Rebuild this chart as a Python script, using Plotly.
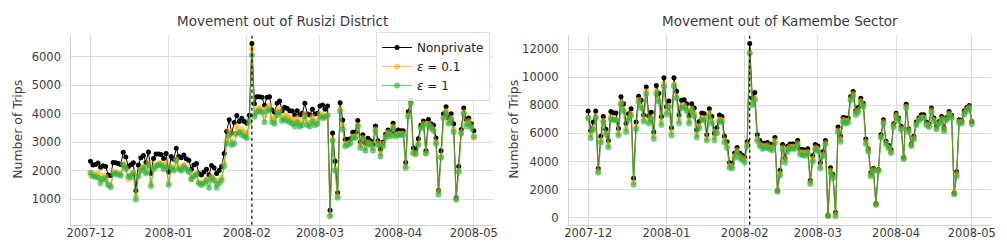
import pandas as pd
import plotly.graph_objects as go

dates = pd.date_range("2007-12-01", "2008-05-01", freq="D")
event_date = "2008-02-03"

# ---- Rusizi District ----
rusizi_nonprivate = [
    2330, 2200, 2220, 2270, 2120, 2170, 2150, 1850, 1830, 2290, 2280, 2250, 2220, 2650, 2480, 2150, 2210, 2280, 1300, 2200, 2450, 2530, 2290, 2660, 1900, 2430, 2590, 2590, 2570, 2430, 2600,
    1950, 2500, 2400, 2790, 2500, 2450, 2550, 2420, 2370, 2050, 2200, 2250, 1900, 1850, 1950, 2050, 1850, 2180, 2100, 1900, 2010, 2150, 2600, 3380, 3790, 3320, 3690, 3940, 3730, 3840, 3730,
    3670, 3950, 6470, 4350, 4600, 4600, 4580, 4300, 4580, 4600, 4130, 4050, 4370, 4450, 4110, 4230, 4190, 4110, 4100, 3960, 4110, 3960, 4020, 4370, 3990, 3960, 4160, 3990, 4020,
    4270, 4310, 4160, 4270, 610, 3320, 2330, 1220, 4390, 3780, 3100, 3100, 3120, 3350, 3350, 3760, 3000, 3260, 2970, 3140, 3050, 2920, 3570, 3050, 2750, 3000, 3280, 3430, 3340, 3670, 3320,
    3430, 3400, 3400, 2290, 4070, 4480, 2800, 2750, 3120, 3600, 3750, 2700, 3800, 3650, 3600, 3150, 1300, 2700, 4000, 4250, 3850, 4000, 3650, 1050, 2150, 3450, 4200, 3800, 3850, 3650, 3400,
]
rusizi_eps01 = [
    1830, 1880, 1860, 1900, 1700, 1820, 1800, 1520, 1480, 1950, 1950, 1900, 1880, 2250, 2100, 1700, 1860, 1950, 1100, 1850, 2050, 2150, 1950, 2300, 1550, 2100, 2200, 2250, 2250, 2100, 2250,
    1550, 2150, 2050, 2400, 2150, 2050, 2200, 2100, 2000, 1700, 1850, 1900, 1600, 1550, 1600, 1700, 1600, 1800, 1700, 1550, 1650, 1750, 2250, 3050, 3400, 3000, 3300, 3550, 3350, 3450, 3350,
    3300, 3650, 6280, 3950, 4150, 4200, 4150, 3950, 4200, 4300, 3850, 3800, 4100, 4150, 3850, 3950, 3900, 3850, 3800, 3700, 3850, 3650, 3750, 4000, 3700, 3650, 3900, 3700, 3750,
    4000, 3950, 3850, 3950, 420, 3100, 2050, 1100, 4150, 3550, 2950, 2950, 3000, 3200, 3200, 3600, 2900, 3150, 2800, 3000, 2950, 2800, 3450, 2950, 2600, 2950, 3200, 3350, 3250, 3550, 3250,
    3300, 3300, 3300, 2150, 3950, 4400, 2650, 2550, 2950, 3500, 3650, 2600, 3650, 3550, 3450, 3000, 1250, 2500, 3850, 4100, 3700, 3850, 3450, 1000, 2000, 3350, 4050, 3650, 3750, 3550, 3150,
]
rusizi_eps1 = [
    1930, 1800, 1780, 1760, 1560, 1720, 1680, 1500, 1420, 1880, 1900, 1860, 1820, 2200, 2050, 1800, 1760, 1900, 980, 1800, 2000, 2100, 1900, 2200, 1450, 2050, 2150, 2200, 2200, 2050, 2150,
    1500, 2100, 2000, 2350, 2050, 2000, 2150, 2050, 1950, 1700, 1800, 1850, 1550, 1500, 1550, 1650, 1400, 1750, 1650, 1400, 1550, 1650, 2150, 2950, 3250, 2900, 2950, 3300, 3350, 3250, 3200,
    3150, 3750, 6070, 3900, 4050, 4100, 4050, 3700, 4100, 4150, 3700, 3650, 3950, 4050, 3750, 3800, 3750, 3700, 3650, 3550, 3700, 3550, 3600, 3900, 3600, 3550, 3750, 3600, 3650,
    3900, 3850, 3900, 3950, 400, 3050, 2000, 1050, 4100, 3450, 2850, 2900, 2950, 3150, 3150, 3550, 2800, 3100, 2700, 2950, 2900, 2700, 3400, 2900, 2500, 2850, 3150, 3300, 3200, 3500, 3200,
    3250, 3250, 3250, 2100, 3900, 4350, 2600, 2600, 2900, 3500, 3600, 2600, 3600, 3500, 3400, 2950, 1150, 2450, 3850, 4000, 3650, 3800, 3350, 980, 1950, 3300, 4000, 3550, 3650, 3500, 3200,
]

# ---- Kamembe Sector ----
kamembe_nonprivate = [
    7600, 6200, 6800, 7600, 3500, 5800, 7200, 6300, 5500, 7550, 7450, 7450, 6350, 8600, 8100, 6700, 7400, 7750, 2800, 6800, 8650, 8350, 7300, 9300, 7250, 7500, 6100, 9400, 8850, 7200, 9950,
    7900, 8300, 6400, 9950, 9000, 7300, 8350, 8400, 8100, 7250, 8100, 7800, 6250, 6850, 7450, 7400, 5900, 7750, 7200, 6000, 6400, 7300, 7200, 5800, 5400, 3900, 3850, 4600, 5000, 4600, 4450,
    4300, 5400, 12400, 8500, 8900, 5900, 5500, 5300, 5300, 5350, 5200, 5200, 5700, 1950, 3350, 5200, 4250, 5100, 5250, 5250, 5250, 5500, 4850, 4850, 4800, 4900, 2650, 4400, 5200,
    5100, 3900, 4700, 5500, 170, 3550, 3070, 360, 6450, 5800, 7130, 7090, 7090, 8620, 8980, 7610, 7840, 8500, 8150, 5600, 4900, 3200, 3500, 1000, 3430, 5910, 6970, 5430, 5150, 4840, 6660,
    7440, 7090, 6500, 4300, 8080, 6310, 5240, 5790, 6800, 7090, 7320, 7320, 6800, 6660, 7800, 7090, 6500, 6850, 7200, 6380, 7130, 7560, 7280, 1750, 3260, 6970, 6900, 7610, 7840, 7980, 6850,
]
kamembe_eps01 = [
    7100, 5900, 6300, 7200, 3300, 5500, 6900, 6000, 5200, 7150, 7000, 7000, 6000, 8200, 7700, 6300, 7100, 7400, 2500, 6500, 8400, 7900, 7000, 9000, 6900, 7150, 5800, 9000, 8400, 6800, 9500,
    7500, 7950, 6100, 9500, 8600, 6900, 7950, 8000, 7750, 6900, 7750, 7400, 5900, 6500, 7100, 7100, 5600, 7450, 6900, 5700, 6100, 7000, 6950, 5500, 5150, 3700, 3650, 4400, 4800, 4400, 4250,
    4100, 5200, 11750, 8100, 8500, 5600, 5250, 5100, 5100, 5150, 5000, 5000, 5500, 1900, 3150, 5000, 4100, 4900, 5050, 5050, 5050, 5300, 4650, 4650, 4600, 4700, 2500, 4200, 5000,
    4900, 3650, 4500, 5300, 200, 3350, 2950, 250, 6200, 5600, 6950, 6900, 6900, 8450, 8800, 7450, 7650, 8300, 8000, 5400, 4850, 3050, 3400, 950, 3350, 5750, 6800, 5300, 5000, 4700, 6550,
    7300, 6950, 6350, 4250, 7900, 6200, 5150, 5650, 6650, 6950, 7150, 7150, 6650, 6550, 7650, 6950, 6350, 6700, 7050, 6250, 7000, 7400, 7150, 1800, 3100, 6850, 6800, 7450, 7700, 7850, 6800,
]
kamembe_eps1 = [
    7100, 5650, 6250, 7100, 3200, 5350, 6800, 5900, 5000, 7000, 6950, 6950, 5850, 8050, 7550, 6100, 6950, 7250, 2350, 6300, 8250, 7800, 6850, 8800, 6700, 7000, 5600, 8800, 8250, 6600, 9350,
    7350, 7850, 5850, 9350, 8500, 6700, 7800, 7850, 7600, 6700, 7600, 7200, 5700, 6350, 6950, 6950, 5500, 7200, 6700, 5500, 6000, 6850, 6800, 5350, 4950, 3550, 3500, 4250, 4650, 4250, 4100,
    3900, 5050, 11700, 8000, 8350, 5450, 5100, 4900, 4950, 5000, 4850, 4800, 5300, 1850, 3000, 4850, 3900, 4700, 4900, 4900, 4900, 5150, 4500, 4450, 4400, 4550, 2400, 4000, 4850,
    4750, 3500, 4350, 5200, 100, 3200, 2800, 100, 6100, 5400, 6800, 6700, 6750, 8350, 8700, 7300, 7500, 8200, 7900, 5250, 4700, 2950, 3300, 900, 3300, 5700, 6700, 5250, 4950, 4600, 6450,
    7200, 6850, 6250, 4150, 7800, 6100, 5100, 5550, 6600, 6900, 7050, 7100, 6600, 6450, 7500, 6850, 6300, 6650, 6950, 6150, 6950, 7300, 7100, 1650, 2950, 6750, 6700, 7350, 7600, 7750, 6650,
]

titles = ["Movement out of Rusizi District", "Movement out of Kamembe Sector"]
x_tick_vals = ["2007-12-01", "2008-01-01", "2008-02-01", "2008-03-01", "2008-04-01", "2008-05-01"]
x_tick_text = ["2007-12", "2008-01", "2008-02", "2008-03", "2008-04", "2008-05"]
y1_ticks = [1000, 2000, 3000, 4000, 5000, 6000]
y2_ticks = [0, 2000, 4000, 6000, 8000, 10000, 12000]
series_names = ["Nonprivate", "<i>ε</i> = 0.1", "<i>ε</i> = 1"]

W, H = 1007, 247
FONT = "DejaVu Sans"
TXT = "#3b3b3b"

fig = go.Figure()

panels = [
    (rusizi_nonprivate, rusizi_eps01, rusizi_eps1, "x", "y", True),
    (kamembe_nonprivate, kamembe_eps01, kamembe_eps1, "x2", "y2", False),
]
styles = [
    dict(color="black", lw=1.0, ms=5),
    dict(color="rgba(255,170,0,0.6)", lw=1.2, ms=6),
    dict(color="rgba(40,180,70,0.65)", lw=1.2, ms=6),
]
for np_, e01, e1, xa, ya, show in panels:
    for name, vals, st in zip(series_names, [np_, e01, e1], styles):
        fig.add_trace(go.Scatter(
            x=dates, y=vals, mode="lines+markers", name=name,
            xaxis=xa, yaxis=ya, showlegend=show,
            line=dict(color=st["color"], width=st["lw"]),
            marker=dict(color=st["color"], size=st["ms"]),
        ))

# plot area geometry (pixels)
left_dom = [63.3 / W, 485 / W]
right_dom = [561 / W, 983 / W]
y_dom = [1 - 216.7 / H, 1 - 27 / H]

x_range = [pd.Timestamp("2007-12-01") - pd.Timedelta(days=7.6), pd.Timestamp("2008-05-01") + pd.Timedelta(days=7.6)]

common_x = dict(
    range=x_range, tickvals=x_tick_vals, ticktext=x_tick_text,
    showgrid=True, gridcolor="#dcdcdc", gridwidth=1,
    showline=True, linecolor="#d0d0d0", linewidth=1,
    ticks="outside", ticklen=3, tickcolor="#cccccc",
    tickfont=dict(family=FONT, size=11.5, color=TXT),
    ticklabelstandoff=-6,
    zeroline=False, automargin=False,
)
common_y = dict(
    showgrid=True, gridcolor="#dcdcdc", gridwidth=1,
    showline=True, linecolor="#d0d0d0", linewidth=1,
    ticks="", tickfont=dict(family=FONT, size=11.5, color=TXT),
    ticklabelstandoff=7,
    zeroline=False, domain=y_dom, automargin=False,
)

fig.update_layout(
    width=W, height=H,
    margin=dict(l=0, r=0, t=0, b=0, autoexpand=False),
    paper_bgcolor="white", plot_bgcolor="white",
    xaxis=dict(domain=left_dom, anchor="y", **common_x),
    yaxis=dict(anchor="x", range=[100, 6770], tickvals=y1_ticks,
               ticktext=[str(v) for v in y1_ticks], **common_y),
    xaxis2=dict(domain=right_dom, anchor="y2", **common_x),
    yaxis2=dict(anchor="x2", range=[-500, 13000], tickvals=y2_ticks,
                ticktext=[str(v) for v in y2_ticks], **common_y),
    legend=dict(
        x=368 / W, y=1 - 24 / H, xanchor="left", yanchor="top",
        bgcolor="rgba(255,255,255,0.85)", bordercolor="#dddddd", borderwidth=1,
        font=dict(family=FONT, size=12, color="#222"),
        itemwidth=30, tracegroupgap=0,
    ),
    showlegend=True,
)

# event lines
for xa in ["x", "x2"]:
    fig.add_shape(type="line", xref=xa, yref="paper",
                  x0=event_date, x1=event_date, y0=y_dom[0], y1=y_dom[1],
                  line=dict(color="black", width=1.2, dash="dot"))

# titles
for dom, t in zip([left_dom, right_dom], titles):
    fig.add_annotation(text=t, xref="paper", yref="paper",
                       x=(dom[0] + dom[1]) / 2, y=1 - 13 / H, showarrow=False,
                       font=dict(family=FONT, size=13.5, color=TXT), xanchor="center", yanchor="middle")

# y-axis titles
for xp in [10, 506]:
    fig.add_annotation(text="Number of Trips", xref="paper", yref="paper",
                       x=xp / W, y=(y_dom[0] + y_dom[1]) / 2, showarrow=False, textangle=-90,
                       font=dict(family=FONT, size=12.5, color=TXT), xanchor="center", yanchor="middle")

fig.write_html("out.html")
